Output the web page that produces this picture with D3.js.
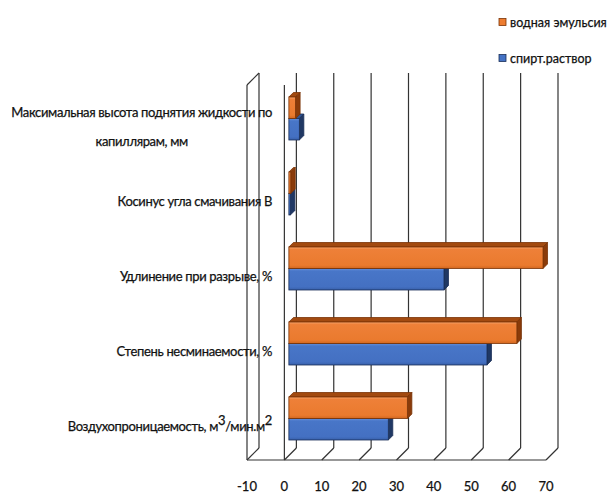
<!DOCTYPE html>
<html>
<head>
<meta charset="utf-8">
<script src="https://cdn.jsdelivr.net/npm/d3@7"></script>
<style>
  html, body { margin: 0; padding: 0; background: #fff; }
  svg { display: block; }
  text { font-family: Lato, "Open Sans", sans-serif; fill: #111; stroke: #111; stroke-width: 0.25px; }
</style>
</head>
<body>
<svg id="chart" width="608" height="494"></svg>
<script>
// Categories from top to bottom; "\n" breaks a label, "^n" is a superscript
const categories = [
  "Максимальная высота поднятия жидкости по\nкапиллярам, мм",
  "Косинус угла смачивания В",
  "Удлинение при разрыве, %",
  "Степень несминаемости, %",
  "Воздухопроницаемость, м^3/мин.м^2"
];
const seriesNames = ["водная эмульсия", "спирт.раствор"];
const emulsion = [1.8, 0.5, 68, 61, 31.7];
const alcohol = [2.8, 0.4, 41.5, 53, 26.6];
const ticks = [-10, 0, 10, 20, 30, 40, 50, 60, 70];

const svg = d3.select("#chart");

// front plane scales
const x = d3.scaleLinear().domain([-10, 70]).range([247, 546]);
const y = d3.scaleBand().domain(categories).range([85, 460]);

// depth of the back wall and of the bars
const wall = { dx: 12, dy: -12 };
const barShift = { dx: 4.5, dy: -4 };
const barDepth = 4.5;
const barH = 21.5;

// gradients for the bar front faces
const defs = svg.append("defs");
function grad(id, stops) {
  const g = defs.append("linearGradient").attr("id", id)
    .attr("x1", 0).attr("y1", 0).attr("x2", 0).attr("y2", 1);
  stops.forEach(s => g.append("stop").attr("offset", s[0]).attr("stop-color", s[1]));
}
grad("gOrange", [[0, "#f6a36a"], [0.12, "#ee8038"], [0.85, "#ea7a2e"], [1, "#d2671f"]]);
grad("gBlue", [[0, "#6490dc"], [0.12, "#4876c8"], [0.85, "#4470c2"], [1, "#3860aa"]]);

const styles = [
  { front: "url(#gOrange)", top: "#a24a10", end: "#8a3b0a", stroke: "#7a3306", swatch: "#ed7d31" },
  { front: "url(#gBlue)", top: "#2f5597", end: "#203864", stroke: "#1a2f57", swatch: "#4472c4" }
];

// walls and floor
const grid = svg.append("g").attr("stroke", "#333").attr("stroke-width", 1.2).attr("fill", "none");
const yTop = y.range()[0], yBot = y.range()[1];
grid.selectAll("line.back").data(ticks).join("line")
  .attr("x1", d => x(d) + wall.dx).attr("x2", d => x(d) + wall.dx)
  .attr("y1", yTop + wall.dy).attr("y2", yBot + wall.dy);
grid.selectAll("line.floor").data(ticks).join("line")
  .attr("x1", d => x(d)).attr("x2", d => x(d) + wall.dx)
  .attr("y1", yBot).attr("y2", yBot + wall.dy);
grid.append("line").attr("x1", x(-10)).attr("x2", x(70)).attr("y1", yBot).attr("y2", yBot);
grid.append("line").attr("x1", x(-10)).attr("x2", x(-10)).attr("y1", yTop).attr("y2", yBot);
grid.append("line").attr("x1", x(-10)).attr("x2", x(-10) + wall.dx).attr("y1", yTop).attr("y2", yTop + wall.dy);
grid.append("line").attr("x1", x(0)).attr("x2", x(0)).attr("y1", yTop).attr("y2", yBot);

// 3D bars
function drawBar(g, v, yt, st) {
  const x0 = x(0) + barShift.dx, x1 = x(v) + barShift.dx;
  const t = yt + barShift.dy, b = t + barH, d = barDepth;
  const pts = a => a.map(p => p.join(",")).join(" ");
  g.append("polygon").attr("points", pts([[x0, t], [x1, t], [x1 + d, t - d], [x0 + d, t - d]]))
    .attr("fill", st.top).attr("stroke", st.stroke).attr("stroke-width", 0.8);
  g.append("polygon").attr("points", pts([[x1, t], [x1 + d, t - d], [x1 + d, b - d], [x1, b]]))
    .attr("fill", st.end).attr("stroke", st.stroke).attr("stroke-width", 0.8);
  g.append("rect").attr("x", x0).attr("y", t).attr("width", Math.max(0, x1 - x0)).attr("height", barH)
    .attr("fill", st.front).attr("stroke", st.stroke).attr("stroke-width", 0.8);
}
const bars = svg.append("g");
categories.forEach((c, i) => {
  const cy = y(c) + y.bandwidth() / 2;
  drawBar(bars, alcohol[i], cy, styles[1]);
  drawBar(bars, emulsion[i], cy - barH, styles[0]);
});

// category labels
const labelG = svg.append("g").attr("font-size", 13).attr("letter-spacing", -0.35);
function addRich(textSel, str) {
  let raised = false;
  str.split(/(\^\d)/).filter(s => s.length).forEach(part => {
    if (part[0] === "^") {
      textSel.append("tspan").attr("dy", -6).text(part.slice(1));
      raised = true;
    } else {
      textSel.append("tspan").attr("dy", raised ? 6 : 0).text(part);
      raised = false;
    }
  });
}
const labelRight = 272;
categories.forEach(c => {
  const base = y(c) + y.bandwidth() / 2 + 8.5;
  const lines = c.split("\n");
  if (lines.length === 1) {
    const t = labelG.append("text").attr("x", labelRight).attr("y", base).attr("text-anchor", "end");
    addRich(t, lines[0]);
  } else {
    const gap = 29;
    const t1 = labelG.append("text").attr("x", labelRight).attr("y", base - gap / 2)
      .attr("text-anchor", "end").text(lines[0]);
    const w = t1.node().getComputedTextLength();
    labelG.append("text").attr("x", labelRight - w / 2).attr("y", base + gap / 2)
      .attr("text-anchor", "middle").text(lines[1]);
  }
});

// value axis labels
svg.append("g").selectAll("text").data(ticks).join("text")
  .attr("x", d => x(d)).attr("y", 491)
  .attr("text-anchor", "middle").attr("font-size", 13).text(d => d);

// legend
const legend = svg.append("g");
seriesNames.forEach((name, i) => {
  const ly = i === 0 ? 22 : 58;
  legend.append("rect").attr("x", 499).attr("y", ly - 3.5).attr("width", 7).attr("height", 7)
    .attr("fill", styles[i].swatch).attr("stroke", styles[i].stroke).attr("stroke-width", 0.8);
  legend.append("text").attr("x", 510).attr("y", ly + 4.5)
    .attr("font-size", 12.5).text(name);
});
</script>
</body>
</html>
